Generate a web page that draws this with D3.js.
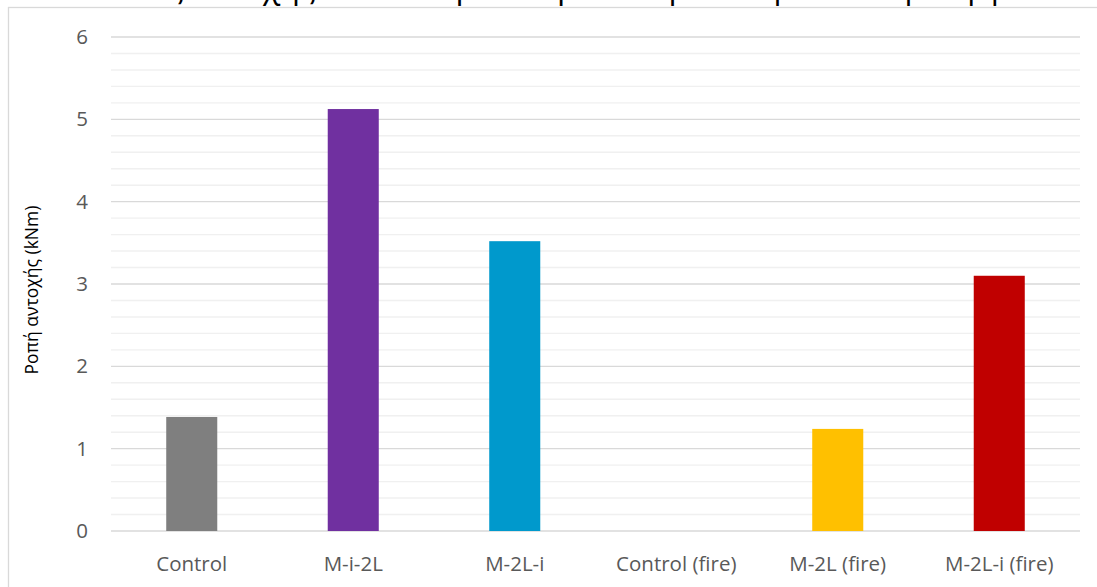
<!DOCTYPE html>
<html>
<head>
<meta charset="utf-8">
<script src="https://cdn.jsdelivr.net/npm/d3@7"></script>
<style>
  html, body { margin: 0; padding: 0; background: #ffffff; overflow: hidden; }
  svg { display: block; }
  text { font-variant-ligatures: none; }
</style>
</head>
<body>
<svg id="chart" width="1097" height="587"></svg>
<script>
// Bending resistance per specimen
const categories = ["Control", "M-i-2L", "M-2L-i", "Control (fire)", "M-2L (fire)", "M-2L-i (fire)"];
const moments = [1.385, 5.125, 3.52, 0, 1.24, 3.10];
const barColors = ["#7f7f7f", "#7030a0", "#0099cc", "#a5a5a5", "#ffc000", "#c00000"];
const majorTicks = [0, 1, 2, 3, 4, 5, 6];
const yTitle = "Ροπή αντοχής (kNm)";
const chartTitle = "Ροπές αντοχής των δοκιμίων πριν και μετά την έκθεση στη φωτιά";

const font = "'Open Sans', Lato, sans-serif";
const svg = d3.select("#chart");

const plot = { left: 111, right: 1080, top: 37, bottom: 531 };

const x = d3.scaleBand()
  .domain(categories)
  .range([plot.left, plot.right])
  .paddingInner(0.684)
  .paddingOuter(0.342);

const y = d3.scaleLinear()
  .domain([0, 6])
  .range([plot.bottom, plot.top]);

// Title sits above the chart frame
svg.append("text")
  .attr("x", 585)
  .attr("y", -2)
  .attr("text-anchor", "middle")
  .attr("font-family", font)
  .attr("font-size", 32)
  .attr("fill", "#000000")
  .text(chartTitle);

// Chart frame
svg.append("rect")
  .attr("x", 8.5)
  .attr("y", 7.5)
  .attr("width", 1200)
  .attr("height", 700)
  .attr("fill", "#ffffff")
  .attr("stroke", "#d9d9d9")
  .attr("stroke-width", 1.3);

// Minor gridlines
const minorTicks = y.ticks(30).filter(t => Math.abs(t - Math.round(t)) > 1e-6);
svg.append("g")
  .selectAll("line")
  .data(minorTicks)
  .join("line")
  .attr("x1", plot.left)
  .attr("x2", plot.right)
  .attr("y1", d => y(d))
  .attr("y2", d => y(d))
  .attr("stroke", "#f0f0f0")
  .attr("stroke-width", 1.4);

// Major gridlines
svg.append("g")
  .selectAll("line")
  .data(majorTicks)
  .join("line")
  .attr("x1", plot.left)
  .attr("x2", plot.right)
  .attr("y1", d => y(d))
  .attr("y2", d => y(d))
  .attr("stroke", "#d9d9d9")
  .attr("stroke-width", 1.4);

// Bars
svg.append("g")
  .selectAll("rect")
  .data(categories.map((c, i) => ({ c, v: moments[i], color: barColors[i] })))
  .join("rect")
  .attr("x", d => x(d.c))
  .attr("width", x.bandwidth())
  .attr("y", d => y(d.v))
  .attr("height", d => y(0) - y(d.v))
  .attr("fill", d => d.color);

// Y axis (labels only)
const yAxis = d3.axisLeft(y).tickValues(majorTicks).tickSize(0).tickPadding(0).tickFormat(d3.format("d"));
const gy = svg.append("g")
  .attr("transform", `translate(88,0)`)
  .call(yAxis);
gy.select(".domain").remove();
gy.selectAll("text")
  .attr("font-family", font)
  .attr("font-size", 20.5)
  .attr("fill", "#595959");

// X axis (labels only)
const xAxis = d3.axisBottom(x).tickSize(0).tickPadding(0);
const gx = svg.append("g")
  .attr("transform", `translate(0,${plot.bottom})`)
  .call(xAxis);
gx.select(".domain").remove();
gx.selectAll("text")
  .attr("font-family", font)
  .attr("font-size", 20.5)
  .attr("fill", "#595959")
  .attr("dy", null)
  .attr("y", 40);

// Y axis title
svg.append("text")
  .attr("transform", "translate(38,290) rotate(-90)")
  .attr("text-anchor", "middle")
  .attr("font-family", font)
  .attr("font-size", 17.5)
  .attr("fill", "#000000")
  .text(yTitle);
</script>
</body>
</html>
